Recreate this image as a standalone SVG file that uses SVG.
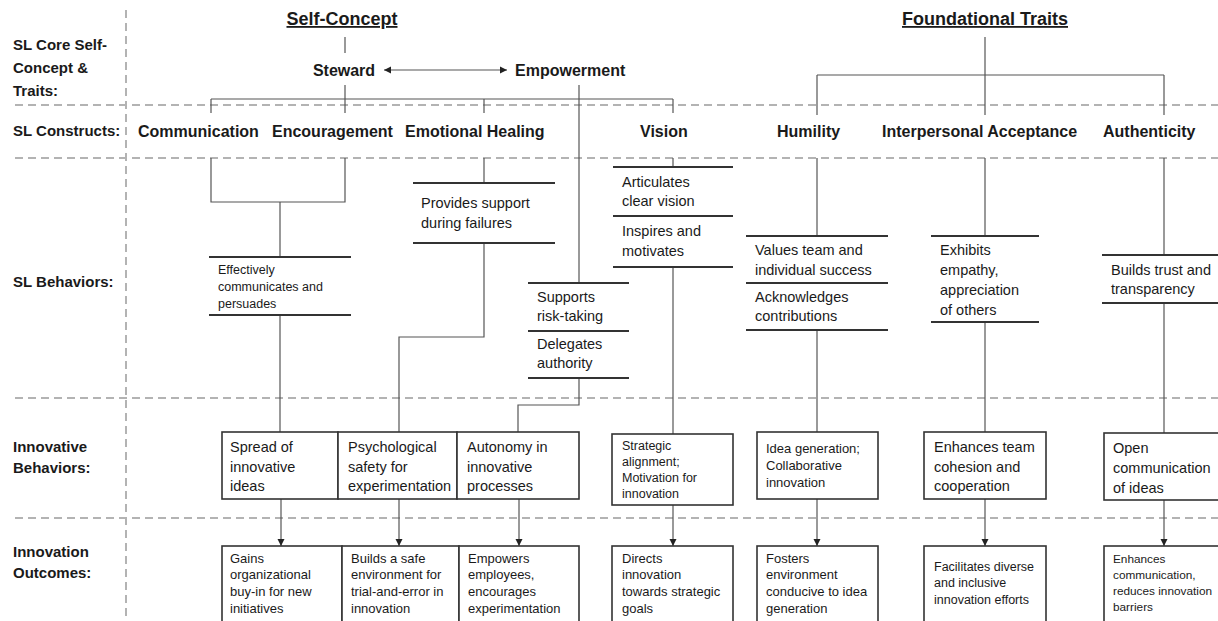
<svg xmlns="http://www.w3.org/2000/svg" width="1218" height="621" viewBox="0 0 1218 621">
<style>
text{font-family:"Liberation Sans",Arial,sans-serif;fill:#1a1a1a}
.lab{font-size:15px;font-weight:bold}
.hd{font-size:18px;font-weight:bold;text-decoration:underline}
.cs{font-size:16px;font-weight:bold}
.grid{stroke:#b3b3b3;stroke-width:2;stroke-dasharray:8 5;fill:none}
.con{stroke:#555;stroke-width:1.2;fill:none}
.bar{stroke:#333;stroke-width:2}
.box{fill:#fff;stroke:#333;stroke-width:1.6}
.b15{font-size:14.5px}
.b13{font-size:13px}
.b12{font-size:12.5px}
</style>
<defs>
<marker id="ah" markerUnits="userSpaceOnUse" markerWidth="8" markerHeight="8" refX="7" refY="4" orient="auto-start-reverse">
<path d="M0,0.5 L7,4 L0,7.5 z" fill="#222"/>
</marker>
</defs>
<rect width="1218" height="621" fill="#fff"/>
<g id="grid">
<line class="grid" x1="126" y1="10" x2="126" y2="621"/>
<line class="grid" x1="15" y1="105" x2="1218" y2="105"/>
<line class="grid" x1="15" y1="158" x2="1218" y2="158"/>
<line class="grid" x1="15" y1="398" x2="1218" y2="398"/>
<line class="grid" x1="15" y1="518" x2="1218" y2="518"/>
</g>
<g id="row-labels">
<text class="lab" x="13" y="50">SL Core Self-</text>
<text class="lab" x="13" y="73">Concept &amp;</text>
<text class="lab" x="13" y="96">Traits:</text>
<text class="lab" x="13" y="136">SL Constructs:</text>
<text class="lab" x="13" y="287">SL Behaviors:</text>
<text class="lab" x="13" y="452">Innovative</text>
<text class="lab" x="13" y="473">Behaviors:</text>
<text class="lab" x="13" y="557">Innovation</text>
<text class="lab" x="13" y="578">Outcomes:</text>
</g>
<g id="connectors">
<line class="con" x1="345" y1="37" x2="345" y2="53"/>
<line class="con" x1="384" y1="70" x2="507" y2="70" marker-start="url(#ah)" marker-end="url(#ah)"/>
<line class="con" x1="345" y1="85" x2="345" y2="113"/>
<line class="con" x1="211" y1="99" x2="673" y2="99"/>
<line class="con" x1="211" y1="99" x2="211" y2="113"/>
<line class="con" x1="484" y1="99" x2="484" y2="113"/>
<line class="con" x1="673" y1="99" x2="673" y2="113"/>
<line class="con" x1="579" y1="85" x2="579" y2="283"/>
<polyline class="con" points="211,158 211,202 345,202 345,158"/>
<line class="con" x1="280" y1="202" x2="280" y2="257"/>
<line class="con" x1="280" y1="315" x2="280" y2="432"/>
<line class="con" x1="484" y1="158" x2="484" y2="183"/>
<polyline class="con" points="484,243 484,337 399,337 399,432"/>
<line class="con" x1="673" y1="158" x2="673" y2="167"/>
<line class="con" x1="673" y1="267" x2="673" y2="434"/>
<polyline class="con" points="579,378 579,405 518,405 518,432"/>
<line class="con" x1="985" y1="37" x2="985" y2="75"/>
<line class="con" x1="817" y1="75" x2="1164" y2="75"/>
<line class="con" x1="817" y1="75" x2="817" y2="115"/>
<line class="con" x1="985" y1="75" x2="985" y2="115"/>
<line class="con" x1="1164" y1="75" x2="1164" y2="115"/>
<line class="con" x1="817" y1="158" x2="817" y2="236"/>
<line class="con" x1="817" y1="330" x2="817" y2="432"/>
<line class="con" x1="985" y1="158" x2="985" y2="236"/>
<line class="con" x1="985" y1="322" x2="985" y2="432"/>
<line class="con" x1="1164" y1="158" x2="1164" y2="255"/>
<line class="con" x1="1164" y1="303" x2="1164" y2="433"/>
<line class="con" x1="281" y1="499" x2="281" y2="546" marker-end="url(#ah)"/>
<line class="con" x1="399" y1="499" x2="399" y2="546" marker-end="url(#ah)"/>
<line class="con" x1="519" y1="499" x2="519" y2="546" marker-end="url(#ah)"/>
<line class="con" x1="673" y1="505" x2="673" y2="546" marker-end="url(#ah)"/>
<line class="con" x1="817" y1="499" x2="817" y2="546" marker-end="url(#ah)"/>
<line class="con" x1="985" y1="499" x2="985" y2="546" marker-end="url(#ah)"/>
<line class="con" x1="1164" y1="500" x2="1164" y2="546" marker-end="url(#ah)"/>
</g>
<g id="self-concept"><text class="hd" x="342" y="25" text-anchor="middle">Self-Concept</text></g>
<g id="foundational-traits"><text class="hd" x="985" y="25" text-anchor="middle">Foundational Traits</text></g>
<g id="steward"><text class="cs" x="344" y="76" text-anchor="middle">Steward</text></g>
<g id="empowerment"><text class="cs" x="515" y="76">Empowerment</text></g>
<g id="communication"><text class="cs" x="138" y="137">Communication</text></g>
<g id="encouragement"><text class="cs" x="272" y="137">Encouragement</text></g>
<g id="emotional-healing"><text class="cs" x="405" y="137">Emotional Healing</text></g>
<g id="vision"><text class="cs" x="640" y="137">Vision</text></g>
<g id="humility"><text class="cs" x="777" y="137">Humility</text></g>
<g id="interpersonal-acceptance"><text class="cs" x="882" y="137">Interpersonal Acceptance</text></g>
<g id="authenticity"><text class="cs" x="1103" y="137">Authenticity</text></g>

<g id="beh-communicates">
<line class="bar" x1="209" y1="257" x2="351" y2="257"/>
<text class="b12" x="218" y="274">Effectively</text>
<text class="b12" x="218" y="291">communicates and</text>
<text class="b12" x="218" y="308">persuades</text>
<line class="bar" x1="209" y1="315" x2="351" y2="315"/>
</g>
<g id="beh-support">
<line class="bar" x1="413" y1="183" x2="555" y2="183"/>
<text class="b15" x="421" y="208">Provides support</text>
<text class="b15" x="421" y="228">during failures</text>
<line class="bar" x1="413" y1="243" x2="555" y2="243"/>
</g>
<g id="beh-vision">
<line class="bar" x1="613" y1="167" x2="733" y2="167"/>
<text class="b15" x="622" y="187">Articulates</text>
<text class="b15" x="622" y="206">clear vision</text>
<line class="bar" x1="613" y1="216" x2="733" y2="216"/>
<text class="b15" x="622" y="236">Inspires and</text>
<text class="b15" x="622" y="256">motivates</text>
<line class="bar" x1="613" y1="267" x2="733" y2="267"/>
</g>
<g id="beh-empowerment">
<line class="bar" x1="528" y1="283" x2="629" y2="283"/>
<text class="b15" x="537" y="302">Supports</text>
<text class="b15" x="537" y="321">risk-taking</text>
<line class="bar" x1="528" y1="331" x2="629" y2="331"/>
<text class="b15" x="537" y="349">Delegates</text>
<text class="b15" x="537" y="368">authority</text>
<line class="bar" x1="528" y1="378" x2="629" y2="378"/>
</g>
<g id="beh-humility">
<line class="bar" x1="746" y1="236" x2="888" y2="236"/>
<text class="b15" x="755" y="255">Values team and</text>
<text class="b15" x="755" y="275">individual success</text>
<line class="bar" x1="746" y1="283" x2="888" y2="283"/>
<text class="b15" x="755" y="302">Acknowledges</text>
<text class="b15" x="755" y="321">contributions</text>
<line class="bar" x1="746" y1="330" x2="888" y2="330"/>
</g>
<g id="beh-acceptance">
<line class="bar" x1="931" y1="236" x2="1039" y2="236"/>
<text class="b15" x="940" y="255">Exhibits</text>
<text class="b15" x="940" y="275">empathy,</text>
<text class="b15" x="940" y="295">appreciation</text>
<text class="b15" x="940" y="315">of others</text>
<line class="bar" x1="931" y1="322" x2="1039" y2="322"/>
</g>
<g id="beh-authenticity">
<line class="bar" x1="1102" y1="255" x2="1218" y2="255"/>
<text class="b15" x="1111" y="275">Builds trust and</text>
<text class="b15" x="1111" y="294">transparency</text>
<line class="bar" x1="1102" y1="303" x2="1218" y2="303"/>
</g>

<g id="ib-spread">
<rect class="box" x="222" y="432" width="116" height="67"/>
<text class="b15" x="230" y="452">Spread of</text>
<text class="b15" x="230" y="472">innovative</text>
<text class="b15" x="230" y="491">ideas</text>
</g>
<g id="ib-safety">
<rect class="box" x="338" y="432" width="119" height="67"/>
<text class="b15" x="348" y="452">Psychological</text>
<text class="b15" x="348" y="472">safety for</text>
<text class="b15" x="348" y="491">experimentation</text>
</g>
<g id="ib-autonomy">
<rect class="box" x="457" y="432" width="122" height="67"/>
<text class="b15" x="467" y="452">Autonomy in</text>
<text class="b15" x="467" y="472">innovative</text>
<text class="b15" x="467" y="491">processes</text>
</g>
<g id="ib-strategic">
<rect class="box" x="612" y="434" width="121" height="71"/>
<text class="b12" x="622" y="450">Strategic</text>
<text class="b12" x="622" y="466">alignment;</text>
<text class="b12" x="622" y="482">Motivation for</text>
<text class="b12" x="622" y="498">innovation</text>
</g>
<g id="ib-idea">
<rect class="box" x="757" y="432" width="121" height="67"/>
<text class="b13" x="766" y="453">Idea generation;</text>
<text class="b13" x="766" y="470">Collaborative</text>
<text class="b13" x="766" y="487">innovation</text>
</g>
<g id="ib-cohesion">
<rect class="box" x="924" y="432" width="122" height="67"/>
<text class="b15" x="934" y="452">Enhances team</text>
<text class="b15" x="934" y="472">cohesion and</text>
<text class="b15" x="934" y="491">cooperation</text>
</g>
<g id="ib-open">
<rect class="box" x="1104" y="433" width="120" height="67"/>
<text class="b15" x="1113" y="453">Open</text>
<text class="b15" x="1113" y="473">communication</text>
<text class="b15" x="1113" y="493">of ideas</text>
</g>

<g id="io-buyin">
<rect class="box" x="222" y="546" width="120" height="90"/>
<text class="b13" x="230" y="563">Gains</text>
<text class="b13" x="230" y="579">organizational</text>
<text class="b13" x="230" y="596">buy-in for new</text>
<text class="b13" x="230" y="613">initiatives</text>
</g>
<g id="io-safe">
<rect class="box" x="342" y="546" width="117" height="90"/>
<text class="b13" x="351" y="563">Builds a safe</text>
<text class="b13" x="351" y="579">environment for</text>
<text class="b13" x="351" y="596">trial-and-error in</text>
<text class="b13" x="351" y="613">innovation</text>
</g>
<g id="io-empowers">
<rect class="box" x="459" y="546" width="120" height="90"/>
<text class="b13" x="468" y="563">Empowers</text>
<text class="b13" x="468" y="579">employees,</text>
<text class="b13" x="468" y="596">encourages</text>
<text class="b13" x="468" y="613">experimentation</text>
</g>
<g id="io-directs">
<rect class="box" x="612" y="546" width="121" height="90"/>
<text class="b13" x="622" y="563">Directs</text>
<text class="b13" x="622" y="579">innovation</text>
<text class="b13" x="622" y="596">towards strategic</text>
<text class="b13" x="622" y="613">goals</text>
</g>
<g id="io-fosters">
<rect class="box" x="757" y="546" width="121" height="90"/>
<text class="b13" x="766" y="563">Fosters</text>
<text class="b13" x="766" y="579">environment</text>
<text class="b13" x="766" y="596">conducive to idea</text>
<text class="b13" x="766" y="613">generation</text>
</g>
<g id="io-facilitates">
<rect class="box" x="924" y="546" width="122" height="90"/>
<text class="b12" x="934" y="571">Facilitates diverse</text>
<text class="b12" x="934" y="587">and inclusive</text>
<text class="b12" x="934" y="604">innovation efforts</text>
</g>
<g id="io-enhances">
<rect class="box" x="1104" y="546" width="120" height="90"/>
<text style="font-size:11.8px" x="1113" y="563">Enhances</text>
<text style="font-size:11.8px" x="1113" y="579">communication,</text>
<text style="font-size:11.8px" x="1113" y="595">reduces innovation</text>
<text style="font-size:11.8px" x="1113" y="611">barriers</text>
</g>
</svg>
